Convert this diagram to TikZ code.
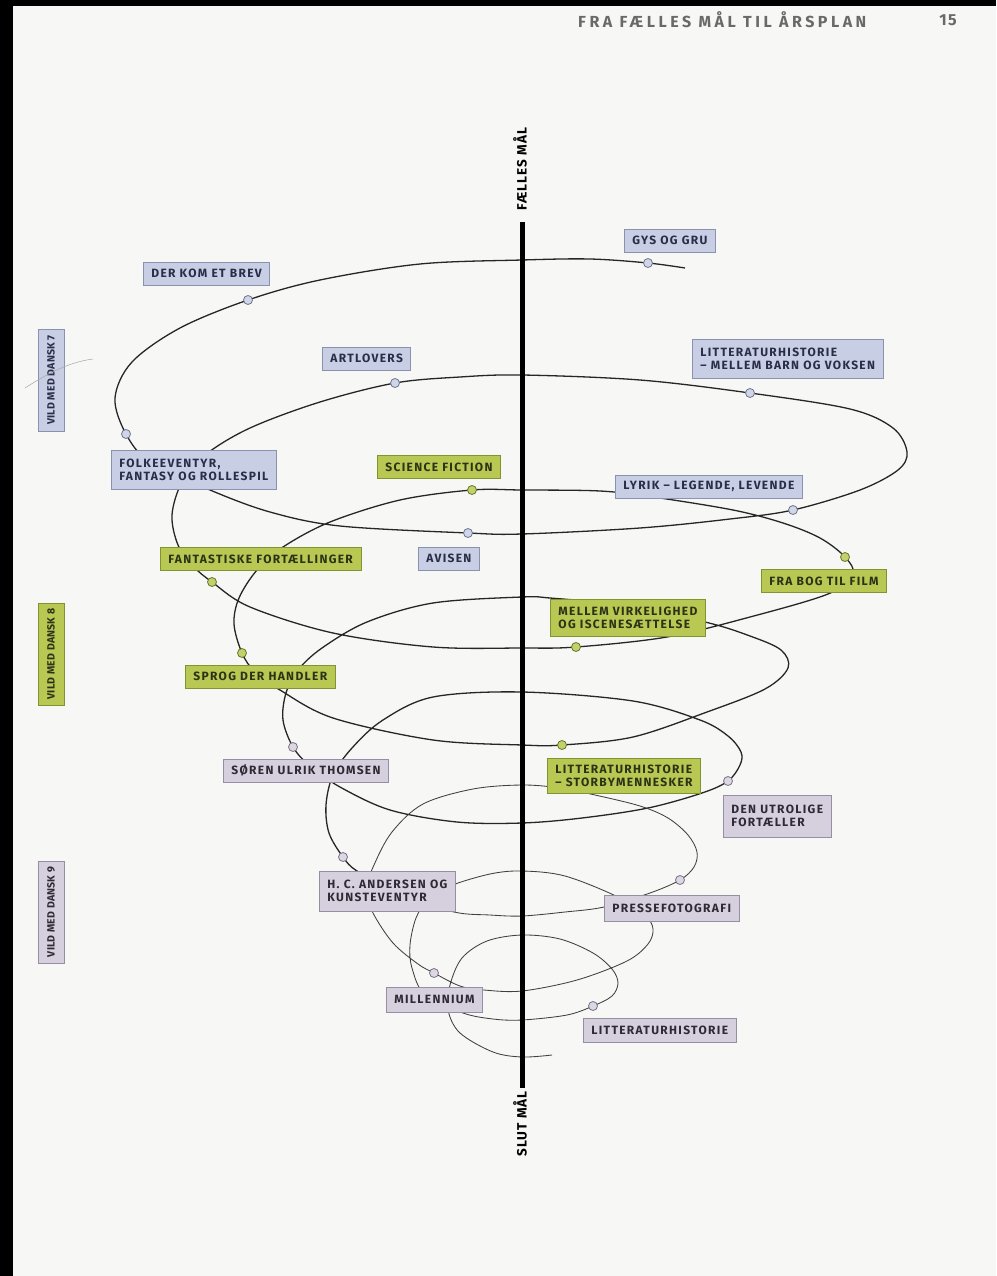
\documentclass[tikz,border=0pt]{standalone}
\usepackage{fontspec}
\setmainfont{Fira Sans}
\newfontfamily\tagfont[LetterSpace=11]{Fira Sans}
\newfontfamily\headfont[LetterSpace=22]{Fira Sans}
\newfontfamily\axisfont[LetterSpace=8]{Fira Sans}
\newfontfamily\gradefont[LetterSpace=2]{Fira Sans}
\definecolor{pagebg}{RGB}{247,247,245}
\definecolor{headgray}{RGB}{105,105,105}
\definecolor{bluefill}{RGB}{200,207,229}
\definecolor{blueline}{RGB}{138,146,176}
\definecolor{bluetext}{RGB}{42,45,72}
\definecolor{greenfill}{RGB}{184,200,82}
\definecolor{greenline}{RGB}{130,148,48}
\definecolor{greentext}{RGB}{44,50,22}
\definecolor{lilacfill}{RGB}{214,208,222}
\definecolor{lilacline}{RGB}{150,143,163}
\definecolor{lilactext}{RGB}{46,42,52}

\begin{document}
\begin{tikzpicture}[x=1pt,y=-1pt,
    spiral/.style={line width=1.3pt,draw=black!85},
    spiralthin/.style={line width=0.85pt,draw=black!75},
    tag/.style={draw,line width=0.8pt,anchor=west,align=left,inner xsep=8pt,inner ysep=0pt,
        minimum height=23pt,font={\tagfont\bfseries\fontsize{12pt}{13pt}\selectfont}},
    tagtwo/.style={tag,minimum height=39pt},
    bluetag/.style={fill=bluefill,draw=blueline,text=bluetext},
    greentag/.style={fill=greenfill,draw=greenline,text=greentext},
    lilactag/.style={fill=lilacfill,draw=lilacline,text=lilactext},
    bead/.style={circle,minimum size=9pt,inner sep=0pt,line width=0.8pt},
    bluebead/.style={bead,fill=bluefill!85!white,draw=blueline!80!black},
    greenbead/.style={bead,fill=greenfill!85!white,draw=greenline!80!black},
    lilacbead/.style={bead,fill=lilacfill!85!white,draw=lilacline!80!black},
    grade/.style={draw,line width=0.8pt,rotate=90,minimum width=102pt,minimum height=26pt,inner sep=0pt,
        font={\gradefont\bfseries\fontsize{10.5pt}{12pt}\selectfont}},
    axislabel/.style={rotate=90,inner sep=0pt,font={\axisfont\bfseries\fontsize{13.5pt}{15pt}\selectfont}}
]
% page
\useasboundingbox (0,0) rectangle (996,1276);
\fill[pagebg] (0,0) rectangle (996,1276);
\fill[black] (0,0) rectangle (996,6);
\fill[black] (0,0) rectangle (13,1276);

% header
\node[anchor=west,inner sep=0pt,text=headgray,font={\headfont\bfseries\fontsize{16pt}{18pt}\selectfont}]
    (title) at (578,20) {FRA FÆLLES MÅL TIL ÅRSPLAN};
\node[inner sep=0pt,text=headgray,font={\axisfont\bfseries\fontsize{16pt}{18pt}\selectfont}]
    (pageno) at (948,20) {15};

% beads on the spiral
\coordinate (gysdot) at (648,263);
\coordinate (brevdot) at (248,300);
\coordinate (folkdot) at (126,434);
\coordinate (avisdot) at (468,533);
\coordinate (lyrikdot) at (793,510);
\coordinate (barndot) at (750,393);
\coordinate (artdot) at (395,383);
\coordinate (fantdot) at (212,582);
\coordinate (virkdot) at (576,647);
\coordinate (filmdot) at (845,557);
\coordinate (scidot) at (472,490);
\coordinate (sprogdot) at (242,653);
\coordinate (storbydot) at (562,745);
\coordinate (sorendot) at (293,747);
\coordinate (dendot) at (728,781);
\coordinate (hcdot) at (343,857);
\coordinate (pressedot) at (680,880);
\coordinate (milldot) at (434,973);
\coordinate (littdot) at (593,1006);

% spiral, upper loops
\draw[spiral] plot[smooth,tension=0.55] coordinates {
    (685,268) (gysdot) (590,259) (522,260) (420,264) (320,280) (brevdot) (180,328) (132,362)
    (115,398) (folkdot) (150,462) (210,490) (270,512) (340,526) (avisdot) (522,534) (640,528)
    (730,519) (lyrikdot) (860,490) (898,470) (907,452) (893,428) (850,409) (barndot) (640,380)
    (522,375) (460,377) (artdot) (320,402) (250,428) (205,455) (182,482) (172,515) (178,545)
    (193,566) (fantdot) (250,607) (333,633) (433,647) (522,648) (virkdot) (667,637) (750,617)
    (828,594) (853,575) (filmdot) (820,538) (783,523) (733,510) (653,497) (600,491) (522,490)
    (scidot) (400,500) (330,522) (283,547) (257,570) (239,598) (234,624) (sprogdot) (255,672)
    (280,690) (333,718) (433,740) (522,745) (storbydot) (633,737) (707,712) (765,689) (788,668)
    (781,650) (750,636) (705,622) (620,605) (550,598) (522,597) (433,603) (367,622) (322,648)
    (298,670) (286,693) (283,720) (sorendot) (310,766) (340,787) (390,810) (457,822) (522,823)
    (582,818) (648,808) (702,793) (dendot) (740,765) (741,752) (728,736) (700,720) (633,701)
    (522,692) (433,697) (383,720) (352,748) (333,775) (326,805) (329,833) (hcdot) (357,871)
    (400,895)};
% spiral, lower loops
\draw[spiralthin] plot[smooth,tension=0.55] coordinates {
    (400,895) (454,912) (490,915) (522,916) (565,912) (604,907) (650,893) (pressedot) (694,867)
    (697,852) (688,835) (668,818) (640,806) (595,795) (560,788) (522,785) (473,789) (423,804)
    (392,832) (374,865) (366,890) (373,913) (393,943) (418,964) (milldot) (460,986) (484,990)
    (522,991) (577,980) (627,961) (648,944) (653,929) (645,915) (618,897) (565,876) (522,871)
    (490,874) (450,886) (428,900) (416,918) (410,945) (412,968) (425,995) (463,1013) (493,1019)
    (522,1020) (567,1015) (littdot) (612,996) (618,983) (612,969) (593,953) (560,939) (522,935)
    (487,941) (462,958) (450,985) (448,1010) (460,1033) (493,1052) (522,1057) (552,1055)};

% axis
\coordinate (axistop) at (522,222);
\coordinate (axisbot) at (522,1088);
\draw[line width=5pt] (axistop) -- (axisbot);
\node[axislabel] (fmaal) at (520,169) {FÆLLES MÅL};
\node[axislabel] (smaal) at (520,1124) {SLUT MÅL};

% vild med dansk 7
\node[tag,bluetag] (gys) at (624,240.5) {GYS OG GRU};
\node[tag,bluetag] (brev) at (143,273.5) {DER KOM ET BREV};
\node[tag,bluetag] (art) at (322,358.5) {ARTLOVERS};
\node[tagtwo,bluetag] (barn) at (692,359) {LITTERATURHISTORIE\\– MELLEM BARN OG VOKSEN};
\node[tagtwo,bluetag] (folk) at (111,470) {FOLKEEVENTYR,\\FANTASY OG ROLLESPIL};
\node[tag,bluetag] (lyrik) at (615,486.5) {LYRIK – LEGENDE, LEVENDE};
\node[tag,bluetag] (avis) at (418,558.5) {AVISEN};

% vild med dansk 8
\node[tag,greentag] (sci) at (377,467) {SCIENCE FICTION};
\node[tag,greentag] (fant) at (160,559) {FANTASTISKE FORTÆLLINGER};
\node[tag,greentag] (film) at (761,581) {FRA BOG TIL FILM};
\node[tagtwo,greentag,minimum height=37pt] (virk) at (550,617.5) {MELLEM VIRKELIGHED\\OG ISCENESÆTTELSE};
\node[tag,greentag] (sprog) at (185,676.5) {SPROG DER HANDLER};
\node[tagtwo,greentag,minimum height=35pt] (storby) at (547,775.5) {LITTERATURHISTORIE\\– STORBYMENNESKER};

% vild med dansk 9
\node[tag,lilactag] (soren) at (223,770.5) {SØREN ULRIK THOMSEN};
\node[tagtwo,lilactag,minimum height=42pt] (den) at (723,816) {DEN UTROLIGE\\FORTÆLLER};
\node[tagtwo,lilactag,minimum height=40pt] (hc) at (319,891) {H. C. ANDERSEN OG\\KUNSTEVENTYR};
\node[tag,lilactag,minimum height=26pt] (presse) at (604,908) {PRESSEFOTOGRAFI};
\node[tag,lilactag,minimum height=25pt] (mill) at (386,999.5) {MILLENNIUM};
\node[tag,lilactag,minimum height=24pt] (litt) at (583,1030) {LITTERATURHISTORIE};

% beads
\foreach \b in {gys,brev,folk,avis,lyrik,barn,art}
    \node[bluebead] (\b bead) at (\b dot) {};
\foreach \b in {fant,virk,film,sci,sprog,storby}
    \node[greenbead] (\b bead) at (\b dot) {};
\foreach \b in {soren,den,hc,presse,mill,litt}
    \node[lilacbead] (\b bead) at (\b dot) {};

% grade labels
\node[grade,fill=bluefill,draw=blueline,text=bluetext] (dansk7) at (51,380) {VILD MED DANSK 7};
\node[grade,fill=greenfill,draw=greenline,text=greentext] (dansk8) at (51,654) {VILD MED DANSK 8};
\node[grade,fill=lilacfill,draw=lilacline,text=lilactext] (dansk9) at (51,912) {VILD MED DANSK 9};
\draw[black!35,line width=0.5pt] (25,388) .. controls (50,372) and (70,362) .. (93,359);
\end{tikzpicture}
\end{document}
